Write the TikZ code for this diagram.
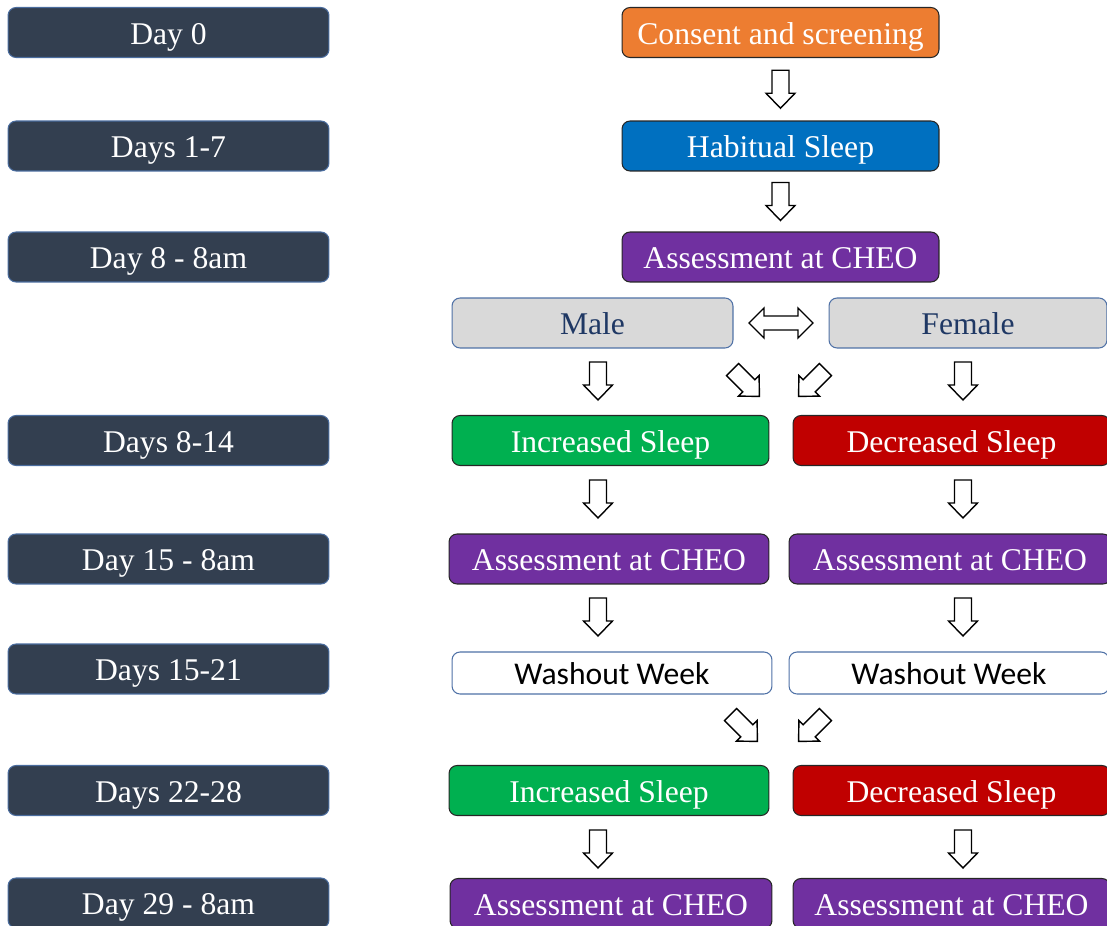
\documentclass[tikz,border=0pt]{standalone}
\usepackage{fontspec}
\setmainfont{Liberation Serif}
\newfontfamily\calibrifont{Carlito}
\usepackage{tikz}
\usetikzlibrary{calc}

\definecolor{dayfill}{HTML}{333F50}
\definecolor{dayline}{HTML}{4A6C9E}
\definecolor{orangefill}{HTML}{ED7D31}
\definecolor{bluefill}{HTML}{0070C0}
\definecolor{purplefill}{HTML}{7030A0}
\definecolor{greenfill}{HTML}{00B050}
\definecolor{redfill}{HTML}{C00000}
\definecolor{greyfill}{HTML}{D9D9D9}
\definecolor{greyline}{HTML}{4F71A6}
\definecolor{navytext}{HTML}{1F3864}

\begin{document}
\begin{tikzpicture}[x=0.02cm,y=-0.02cm,
	box/.style={rounded corners=0.16cm, minimum height=1cm, inner sep=0pt,
		draw=black!85, line width=0.6pt, text=white,
		text height=16pt, text depth=2.5pt,
		font=\fontsize{18}{20}\selectfont},
	daybox/.style={box, fill=dayfill, draw=dayline, minimum width=6.42cm},
	sexbox/.style={box, fill=greyfill, draw=greyline, text=navytext, minimum width=5.6cm},
	washbox/.style={box, fill=white, draw=greyline, text=black, minimum width=6.4cm,
		minimum height=0.84cm, font=\calibrifont\fontsize{18}{20}\selectfont},
	harrow/.pic={\draw[fill=white, line width=0.8pt, line join=miter]
		(-8.5,-19)--(8.5,-19)--(8.5,4)--(14.5,4)--(0,19)--(-14.5,4)--(-8.5,4)--cycle;},
	dblarrow/.pic={\draw[fill=white, line width=0.8pt, line join=miter]
		(-32,0)--(-17,-15)--(-17,-7)--(17,-7)--(17,-15)--(32,0)--(17,15)--(17,7)--(-17,7)--(-17,15)--cycle;}
	]
	\useasboundingbox (0,0) rectangle (1107,926);

	% time line
	\node[daybox] (d0) at (168.5,32.5) {Day 0};
	\node[daybox] (d1) at (168.5,146) {Days 1-7};
	\node[daybox] (d8) at (168.5,257) {Day 8 - 8am};
	\node[daybox] (d814) at (168.5,440.5) {Days 8-14};
	\node[daybox] (d15) at (168.5,559) {Day 15 - 8am};
	\node[daybox] (d1521) at (168.5,669) {Days 15-21};
	\node[daybox] (d2228) at (168.5,790.5) {Days 22-28};
	\node[daybox] (d29) at (168.5,903) {Day 29 - 8am};

	% study flow
	\node[box, fill=orangefill, minimum width=6.34cm] (cons) at (780.5,32.5) {Consent and screening};
	\node[box, fill=bluefill, minimum width=6.34cm] (hab) at (780.5,146) {Habitual Sleep};
	\node[box, fill=purplefill, minimum width=6.34cm] (asm) at (780.5,257) {Assessment at CHEO};

	\node[sexbox, minimum width=5.62cm] (male) at (592.5,323) {Male};
	\node[sexbox, minimum width=5.56cm] (female) at (968,323) {Female};

	\node[box, fill=greenfill, minimum width=6.34cm] (incA) at (610.5,440.5) {Increased Sleep};
	\node[box, fill=redfill, minimum width=6.34cm] (decA) at (951.5,440.5) {Decreased Sleep};

	\node[box, fill=purplefill, minimum width=6.4cm] (asmAL) at (609,559) {Assessment at CHEO};
	\node[box, fill=purplefill, minimum width=6.44cm] (asmAR) at (950,559) {Assessment at CHEO};

	\node[washbox] (washL) at (612,673) {Washout Week};
	\node[washbox] (washR) at (949,673) {Washout Week};

	\node[box, fill=greenfill, minimum width=6.4cm] (incB) at (609,790.5) {Increased Sleep};
	\node[box, fill=redfill, minimum width=6.34cm] (decB) at (951.5,790.5) {Decreased Sleep};

	\node[box, fill=purplefill, minimum width=6.44cm] (asmBL) at (611,903.5) {Assessment at CHEO};
	\node[box, fill=purplefill, minimum width=6.34cm] (asmBR) at (951.5,903.5) {Assessment at CHEO};

	% block arrows
	\pic at ($(cons.south)!0.5!(hab.north)$) {harrow};
	\pic at ($(hab.south)!0.5!(asm.north)$) {harrow};
	\pic at ($(male.east)!0.5!(female.west)$) {dblarrow};

	\pic at (598,381) {harrow};
	\pic at (963,381) {harrow};
	\pic[rotate=45] at (746,383) {harrow};
	\pic[rotate=-45] at (812,383) {harrow};

	\pic at (598,499) {harrow};
	\pic at (963,499) {harrow};
	\pic at (598,617) {harrow};
	\pic at (963,617) {harrow};

	\pic[rotate=45] at (744,728) {harrow};
	\pic[rotate=-45] at (812,728) {harrow};

	\pic at (598,849) {harrow};
	\pic at (963,849) {harrow};
\end{tikzpicture}
\end{document}
